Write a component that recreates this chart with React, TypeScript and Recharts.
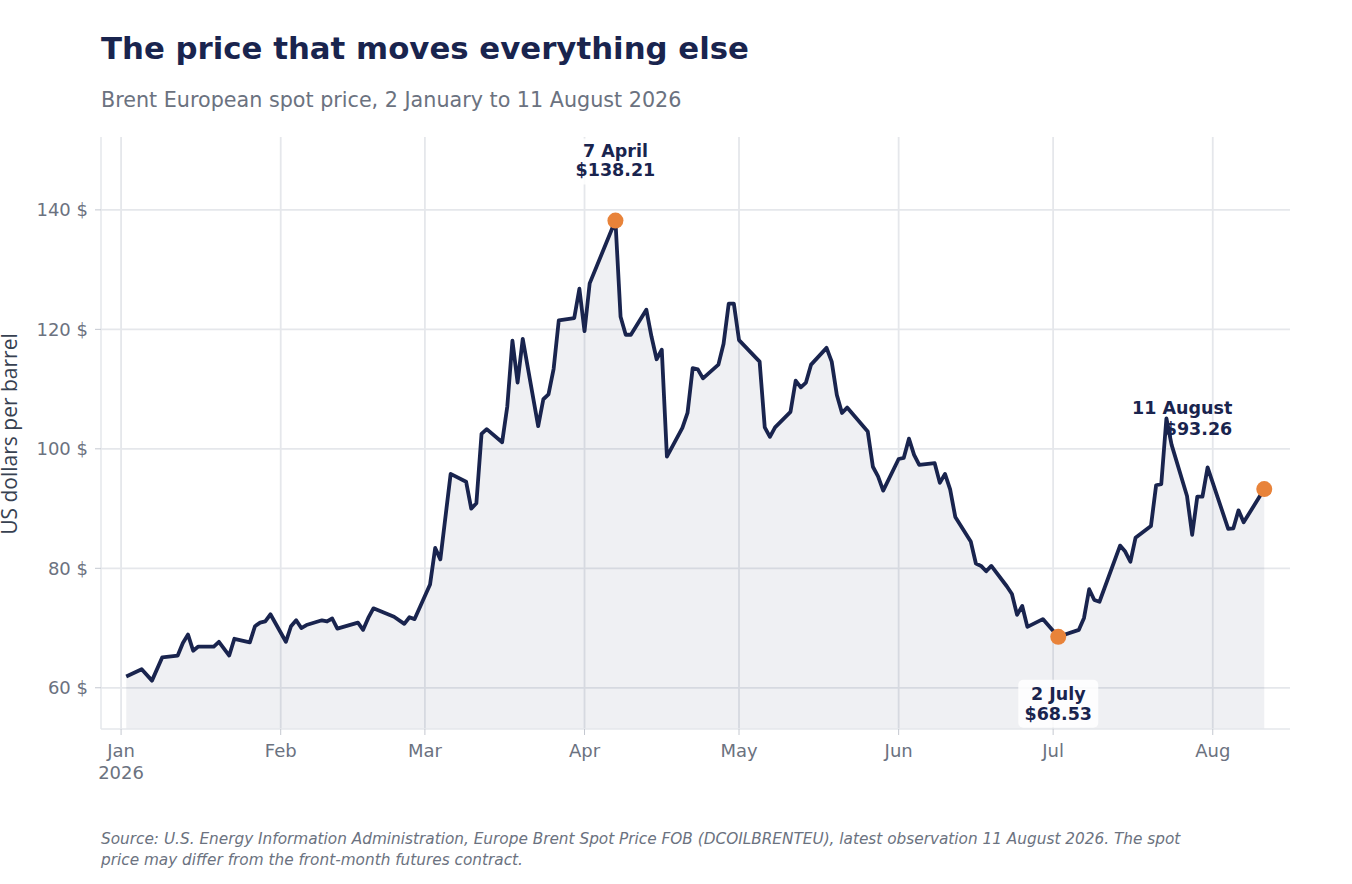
import React from "react";
import {
  Area,
  CartesianGrid,
  ComposedChart,
  Line,
  XAxis,
  YAxis,
} from "recharts";

// Brent spot, US$/bbl
const dates = [
  "2026-01-02", "2026-01-05", "2026-01-07", "2026-01-09", "2026-01-12", "2026-01-13",
  "2026-01-14", "2026-01-15", "2026-01-16", "2026-01-19", "2026-01-20", "2026-01-22",
  "2026-01-23", "2026-01-26", "2026-01-27", "2026-01-28", "2026-01-29", "2026-01-30",
  "2026-02-02", "2026-02-03", "2026-02-04", "2026-02-05", "2026-02-06", "2026-02-09",
  "2026-02-10", "2026-02-11", "2026-02-12", "2026-02-16", "2026-02-17", "2026-02-18",
  "2026-02-19", "2026-02-23", "2026-02-25", "2026-02-26", "2026-02-27", "2026-03-02",
  "2026-03-03", "2026-03-04", "2026-03-06", "2026-03-09", "2026-03-10", "2026-03-11",
  "2026-03-12", "2026-03-13", "2026-03-16", "2026-03-17", "2026-03-18", "2026-03-19",
  "2026-03-20", "2026-03-23", "2026-03-24", "2026-03-25", "2026-03-26", "2026-03-27",
  "2026-03-30", "2026-03-31", "2026-04-01", "2026-04-02", "2026-04-07", "2026-04-08",
  "2026-04-09", "2026-04-10", "2026-04-13", "2026-04-14", "2026-04-15", "2026-04-16",
  "2026-04-17", "2026-04-20", "2026-04-21", "2026-04-22", "2026-04-23", "2026-04-24",
  "2026-04-27", "2026-04-28", "2026-04-29", "2026-04-30", "2026-05-01", "2026-05-05",
  "2026-05-06", "2026-05-07", "2026-05-08", "2026-05-11", "2026-05-12", "2026-05-13",
  "2026-05-14", "2026-05-15", "2026-05-18", "2026-05-19", "2026-05-20", "2026-05-21",
  "2026-05-22", "2026-05-26", "2026-05-27", "2026-05-28", "2026-05-29", "2026-06-01",
  "2026-06-02", "2026-06-03", "2026-06-04", "2026-06-05", "2026-06-08", "2026-06-09",
  "2026-06-10", "2026-06-11", "2026-06-12", "2026-06-15", "2026-06-16", "2026-06-17",
  "2026-06-18", "2026-06-19", "2026-06-22", "2026-06-23", "2026-06-24", "2026-06-25",
  "2026-06-26", "2026-06-29", "2026-07-02", "2026-07-06", "2026-07-07", "2026-07-08",
  "2026-07-09", "2026-07-10", "2026-07-14", "2026-07-15", "2026-07-16", "2026-07-17",
  "2026-07-20", "2026-07-21", "2026-07-22", "2026-07-23", "2026-07-24", "2026-07-27",
  "2026-07-28", "2026-07-29", "2026-07-30", "2026-07-31", "2026-08-04", "2026-08-05",
  "2026-08-06", "2026-08-07", "2026-08-11",
];

const prices = [
  61.9, 63.1, 61.2, 65.1, 65.4, 67.5,
  68.9, 66.2, 66.9, 66.9, 67.7, 65.4,
  68.2, 67.6, 70.3, 70.9, 71.1, 72.3,
  67.7, 70.3, 71.3, 70.0, 70.5, 71.3,
  71.1, 71.6, 69.9, 70.9, 69.7, 71.7,
  73.3, 71.9, 70.7, 71.8, 71.5, 77.3,
  83.4, 81.5, 95.8, 94.5, 90.0, 90.9,
  102.5, 103.3, 101.1, 107.1, 118.1, 111.1,
  118.4, 103.8, 108.3, 109.1, 113.4, 121.5,
  121.9, 126.8, 119.7, 127.7, 138.21, 122.1,
  119.1, 119.1, 123.3, 118.8, 115.0, 116.6,
  98.7, 103.5, 106.0, 113.5, 113.3, 111.8,
  114.1, 117.6, 124.3, 124.3, 118.2, 114.6,
  103.6, 102.0, 103.6, 106.2, 111.4, 110.3,
  111.1, 114.1, 116.9, 114.6, 109.0, 106.0,
  106.9, 102.9, 97.0, 95.4, 93.0, 98.3,
  98.5, 101.7, 99.0, 97.3, 97.6, 94.3,
  95.8, 93.2, 88.6, 84.5, 80.8, 80.4,
  79.5, 80.4, 77.0, 75.7, 72.2, 73.7,
  70.2, 71.5, 68.53, 69.7, 71.7, 76.5,
  74.7, 74.4, 83.8, 82.8, 81.1, 85.1,
  87.1, 93.9, 94.1, 105.1, 100.7, 92.1,
  85.6, 92.0, 92.0, 96.9, 86.6, 86.7,
  89.7, 87.7, 93.26,
];

const monthStarts = [
  "2026-01-01", "2026-02-01", "2026-03-01", "2026-04-01",
  "2026-05-01", "2026-06-01", "2026-07-01", "2026-08-01",
];
const monthLabels = ["Jan", "Feb", "Mar", "Apr", "May", "Jun", "Jul", "Aug"];

const yTicks = [60, 80, 100, 120, 140];

const peakDate = "2026-04-07";
const lowDate = "2026-07-02";
const lastDate = "2026-08-11";

const NAVY = "#19244e";
const ORANGE = "#e8833a";
const GREY = "#6b7280";
const GRID = "#e5e7eb";
const FONT = "'DejaVu Sans', sans-serif";

const dayNum = (iso: string) => {
  const [y, m, d] = iso.split("-").map(Number);
  return (Date.UTC(y, m - 1, d) - Date.UTC(2026, 0, 1)) / 86400000;
};

const rows = dates.map((date, i) => ({ date, x: dayNum(date), price: prices[i] }));
const monthTicks = monthStarts.map(dayNum);

const MonthTick = (props: any) => {
  const { x, y, payload } = props;
  const i = monthTicks.indexOf(payload.value);
  return (
    <g>
      <text x={x} y={y + 22} textAnchor="middle" fill={GREY} fontSize={18} fontFamily={FONT}>
        {monthLabels[i]}
      </text>
      {i === 0 ? (
        <text x={x} y={y + 44} textAnchor="middle" fill={GREY} fontSize={18} fontFamily={FONT}>
          2026
        </text>
      ) : null}
    </g>
  );
};

const fmtDay = (iso: string) => {
  const months = ["January", "February", "March", "April", "May", "June", "July", "August"];
  const [, m, d] = iso.split("-").map(Number);
  return `${d} ${months[m - 1]}`;
};

const labelStyle = {
  fill: NAVY,
  fontSize: 17.5,
  fontWeight: 700,
  fontFamily: FONT,
};

const renderDot = (props: any) => {
  const { cx, cy, payload, index } = props;
  const key = `dot-${index}`;
  if (![peakDate, lowDate, lastDate].includes(payload.date)) return <g key={key} />;
  const l1 = fmtDay(payload.date);
  const l2 = `$${payload.price.toFixed(2)}`;
  if (payload.date === peakDate) {
    return (
      <g key={key}>
        <rect x={cx - 42} y={cy - 82} width={84} height={46} fill="#fff" opacity={0.85} rx={4} />
        <text x={cx} y={cy - 64} textAnchor="middle" {...labelStyle}>{l1}</text>
        <text x={cx} y={cy - 45} textAnchor="middle" {...labelStyle}>{l2}</text>
        <circle cx={cx} cy={cy} r={8} fill={ORANGE} />
      </g>
    );
  }
  if (payload.date === lowDate) {
    return (
      <g key={key}>
        <rect x={cx - 40} y={cy + 43} width={80} height={48} fill="#fff" opacity={0.85} rx={5} />
        <text x={cx} y={cy + 63} textAnchor="middle" {...labelStyle}>{l1}</text>
        <text x={cx} y={cy + 83} textAnchor="middle" {...labelStyle}>{l2}</text>
        <circle cx={cx} cy={cy} r={8} fill={ORANGE} />
      </g>
    );
  }
  return (
    <g key={key}>
      <text x={cx - 32} y={cy - 75} textAnchor="end" {...labelStyle}>{l1}</text>
      <text x={cx - 32} y={cy - 54} textAnchor="end" {...labelStyle}>{l2}</text>
      <circle cx={cx} cy={cy} r={8} fill={ORANGE} />
    </g>
  );
};

export default function App() {
  return (
    <div style={{ position: "absolute", left: 0, top: 0, width: 1352, height: 884, background: "#fff" }}>
      <div
        style={{
          position: "absolute",
          left: 101,
          top: 30,
          fontFamily: FONT,
          fontSize: 30.8,
          fontWeight: 700,
          color: NAVY,
          lineHeight: "36px",
          whiteSpace: "nowrap",
        }}
      >
        The price that moves everything else
      </div>
      <div
        style={{
          position: "absolute",
          left: 101,
          top: 88,
          fontFamily: FONT,
          fontSize: 20.7,
          color: GREY,
          lineHeight: "24px",
          whiteSpace: "nowrap",
        }}
      >
        Brent European spot price, 2 January to 11 August 2026
      </div>

      <div style={{ position: "absolute", left: 0, top: 0 }}>
        <ComposedChart
          width={1352}
          height={884}
          data={rows}
          margin={{ top: 137, right: 62, bottom: 95, left: 21 }}
        >
          <CartesianGrid stroke={GRID} strokeWidth={1.8} syncWithTicks />
          <XAxis
            dataKey="x"
            type="number"
            domain={[-3.9, 227]}
            ticks={monthTicks}
            allowDataOverflow
            height={60}
            tickSize={6}
            tickMargin={0}
            tick={<MonthTick />}
            tickLine={{ stroke: "#c4c8d0" }}
            axisLine={{ stroke: GRID, strokeWidth: 1.5 }}
          />
          <YAxis
            type="number"
            domain={[53.1, 152.2]}
            ticks={yTicks}
            allowDataOverflow
            width={80}
            tickSize={6}
            tickMargin={7}
            tickFormatter={(v: number) => `${v} $`}
            tick={{ fill: GREY, fontSize: 18, fontFamily: FONT }}
            tickLine={{ stroke: "#c4c8d0" }}
            axisLine={{ stroke: GRID, strokeWidth: 1.5 }}
          />
          <Area
            type="linear"
            dataKey="price"
            stroke="none"
            fill={NAVY}
            fillOpacity={0.07}
            isAnimationActive={false}
          />
          <Line
            type="linear"
            dataKey="price"
            stroke={NAVY}
            strokeWidth={3.8}
            strokeLinejoin="round"
            dot={renderDot}
            activeDot={false}
            isAnimationActive={false}
          />
        </ComposedChart>
      </div>

      <svg width={40} height={884} style={{ position: "absolute", left: 0, top: 0 }}>
        <text
          transform="translate(17, 434) rotate(-90)"
          textAnchor="middle"
          fontFamily="'Open Sans', sans-serif"
          fontSize={21}
          fill="#374151"
        >
          US dollars per barrel
        </text>
      </svg>

      <div
        style={{
          position: "absolute",
          left: 101,
          top: 829,
          fontFamily: FONT,
          fontStyle: "italic",
          fontSize: 15.3,
          color: GREY,
          lineHeight: "21px",
          whiteSpace: "nowrap",
        }}
      >
        Source: U.S. Energy Information Administration, Europe Brent Spot Price FOB (DCOILBRENTEU), latest observation 11 August 2026. The spot
        <br />
        price may differ from the front-month futures contract.
      </div>
    </div>
  );
}
